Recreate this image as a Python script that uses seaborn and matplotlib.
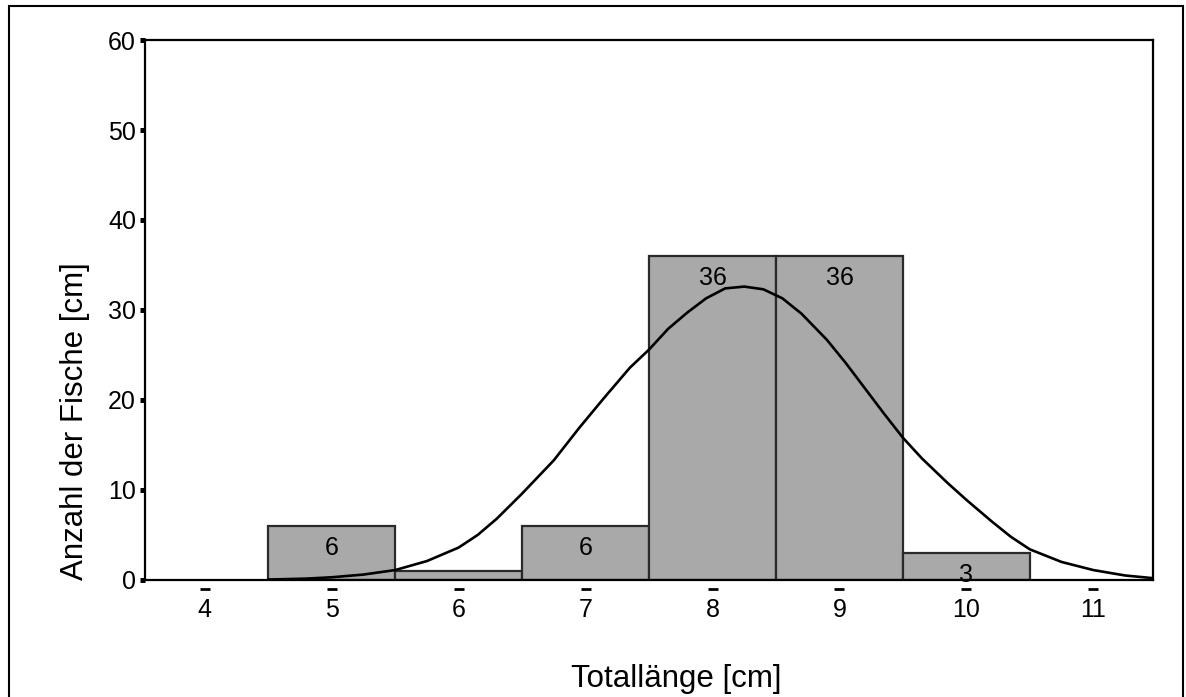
import numpy as np
import pandas as pd
import matplotlib.pyplot as plt
from matplotlib.patches import Rectangle
import seaborn as sns

# histogram classes (cm) and counts
lengths = [5, 6, 7, 8, 9, 10]
counts = [6, 1, 6, 36, 36, 3]
bar_labels = ['6', '', '6', '36', '36', '3']

# normal curve
curve_x = [4.5, 4.8, 5.0, 5.25, 5.5, 5.75, 6.0, 6.15, 6.3, 6.5, 6.75, 6.95, 7.15, 7.35,
           7.5, 7.65, 7.8, 7.95, 8.1, 8.25, 8.4, 8.55, 8.7, 8.9, 9.05, 9.2, 9.35, 9.5,
           9.65, 9.85, 10.0, 10.2, 10.35, 10.5, 10.75, 11.0, 11.25, 11.47]
curve_y = [0.05, 0.15, 0.3, 0.6, 1.1, 2.1, 3.6, 5.0, 6.8, 9.6, 13.3, 16.9, 20.3, 23.6,
           25.6, 27.9, 29.7, 31.3, 32.4, 32.6, 32.3, 31.3, 29.6, 26.7, 24.1, 21.3, 18.5, 15.8,
           13.5, 10.8, 8.9, 6.5, 4.8, 3.4, 2.0, 1.1, 0.5, 0.2]

xticks = [4, 5, 6, 7, 8, 9, 10, 11]
yticks = [0, 10, 20, 30, 40, 50, 60]

sns.set_style('white')
plt.rcParams['font.family'] = ['Liberation Sans', 'DejaVu Sans']
plt.rcParams['text.color'] = 'black'
plt.rcParams['axes.labelcolor'] = 'black'
plt.rcParams['xtick.color'] = 'black'
plt.rcParams['ytick.color'] = 'black'

df = pd.DataFrame({'laenge': lengths, 'anzahl': counts})

fig = plt.figure(figsize=(11.86, 6.97), dpi=100)
ax = fig.add_axes([0.1223, 0.1679, 0.8499, 0.7747])

sns.histplot(data=df, x='laenge', weights='anzahl', discrete=True, ax=ax,
             color='#a9a9a9', edgecolor='#2a2a2a', linewidth=1.6, alpha=1)
sns.lineplot(x=curve_x, y=curve_y, ax=ax, color='black', linewidth=1.9, sort=False)

for x, c, lab in zip(lengths, counts, bar_labels):
    ax.annotate(lab, (x, c), xytext=(0, -7), textcoords='offset points',
                ha='center', va='top', fontsize=18, color='black')

ax.set_xlim(3.53, 11.47)
ax.set_ylim(0, 60)
ax.set_xticks(xticks)
ax.set_yticks(yticks)
ax.tick_params(axis='x', length=0, pad=13, labelsize=18)
ax.tick_params(axis='y', direction='out', length=3.5, width=3.6, pad=3, labelsize=18,
               color='black', left=True)

# small dashes under the x axis in place of tick marks
ax.scatter(xticks, [-0.016] * len(xticks), marker='_', s=60, color='black',
           linewidths=2.0, transform=ax.get_xaxis_transform(), clip_on=False)

for s in ax.spines.values():
    s.set_color('black')
    s.set_linewidth(1.6)

ax.set_xlabel('Totallänge [cm]', fontsize=22.5)
ax.set_ylabel('Anzahl der Fische [cm]', fontsize=22.5)
ax.xaxis.set_label_coords(0.527, -0.155)
ax.yaxis.set_label_coords(-0.0546, 0.294)

# outer frame of the scanned page
fig.patches.append(Rectangle((0.0076, -0.05), 0.9899, 1.0414, transform=fig.transFigure,
                             fill=False, edgecolor='black', linewidth=1.5))

fig.savefig('out.png', dpi=100)
